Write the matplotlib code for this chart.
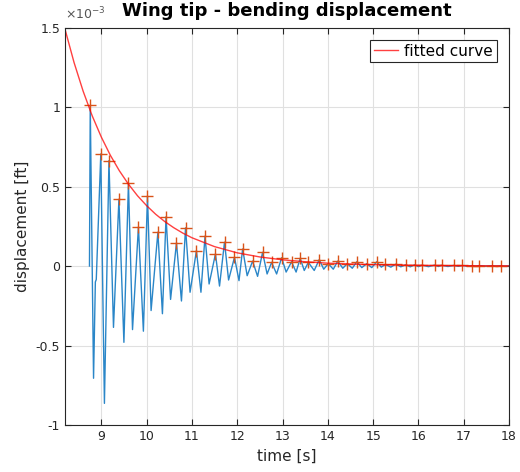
import numpy as np
import matplotlib
matplotlib.use('Agg')
import matplotlib.pyplot as plt
from matplotlib.ticker import FuncFormatter

# values in units of 1e-3 ft
peak_t = [8.757, 8.99, 9.17, 9.39, 9.60, 9.82, 10.02, 10.25, 10.43, 10.66,
          10.86, 11.10, 11.29, 11.52, 11.72, 11.94, 12.12, 12.34, 12.56, 12.76,
          12.98, 13.20, 13.39, 13.57, 13.81, 14.01, 14.22, 14.43, 14.64, 14.86,
          15.08, 15.27, 15.50, 15.72, 15.92, 16.08, 16.36, 16.51, 16.78, 16.97,
          17.19, 17.34, 17.63, 17.82]
peak_v = [1.01, 0.705, 0.663, 0.42, 0.52, 0.245, 0.44, 0.213, 0.31, 0.146,
          0.24, 0.097, 0.188, 0.076, 0.15, 0.055, 0.107, 0.031, 0.086, 0.023,
          0.052, 0.027, 0.048, 0.023, 0.040, 0.015, 0.031, 0.015, 0.027, 0.015,
          0.027, 0.010, 0.012, 0.008, 0.008, 0.006, 0.006, 0.005, 0.004, 0.004,
          0.003, 0.003, 0.002, 0.002]

trough_t = [8.83, 8.87, 8.89, 9.07, 9.27, 9.50, 9.69, 9.93, 10.10, 10.35,
            10.53, 10.77, 10.96, 11.20, 11.38, 11.61, 11.81, 12.04, 12.22, 12.45,
            12.66, 12.87, 13.08, 13.30, 13.48, 13.70, 13.91, 14.12, 14.33, 14.54,
            14.75, 14.97, 15.18, 15.39, 15.61, 15.82, 16.00, 16.22, 16.44, 16.65,
            16.88, 17.08, 17.27, 17.48, 17.72, 17.91]
trough_v = [-0.706, -0.10, -0.085, -0.864, -0.386, -0.48, -0.40, -0.41, -0.28, -0.30,
            -0.21, -0.22, -0.165, -0.165, -0.113, -0.126, -0.088, -0.092, -0.061, -0.065,
            -0.050, -0.050, -0.038, -0.038, -0.028, -0.028, -0.020, -0.020, -0.014, -0.014,
            -0.010, -0.010, -0.007, -0.007, -0.005, -0.005, -0.004, -0.004, -0.003, -0.003,
            -0.002, -0.002, -0.002, -0.001, -0.001, -0.001]

start_t, start_v = 8.74, 0.0
end_t, end_v = 18.0, 0.001

fit_t = [8.2, 8.4, 8.6, 8.8, 9.0, 9.2, 9.4, 9.6, 9.8, 10.0, 10.2, 10.4, 10.6,
         10.8, 11.0, 11.5, 12.0, 12.5, 13.0, 13.5, 14.0, 14.5, 15.0, 16.0,
         17.0, 18.0]
fit_v = [1.490, 1.280, 1.100, 0.945, 0.812, 0.697, 0.599, 0.515, 0.442, 0.380,
         0.326, 0.280, 0.241, 0.207, 0.178, 0.122, 0.083, 0.057, 0.039, 0.027,
         0.018, 0.0125, 0.0085, 0.004, 0.002, 0.001]

# signal = start, all extrema in time order, end
sig = sorted(list(zip(peak_t, peak_v)) + list(zip(trough_t, trough_v))
             + [(start_t, start_v), (end_t, end_v)])
sig_t = [p[0] for p in sig]
sig_v = [p[1] for p in sig]

plt.rcParams['font.family'] = 'DejaVu Sans'
dark = '#262626'

fig = plt.figure(figsize=(5.2, 4.72), dpi=100)
ax = fig.add_axes([0.125, 0.0996, 0.854, 0.842])

ax.plot(sig_t, sig_v, color='#2a86c8', lw=1.0, solid_joinstyle='round')
ax.plot(peak_t, peak_v, '+', color='#D95319', ms=8, mew=1.0)
ax.plot(fit_t, fit_v, color='#FF0000', lw=1.0, alpha=0.75, label='fitted curve')

ax.set_xlim(8.2, 18)
ax.set_ylim(-1, 1.5)
ax.set_xticks(range(9, 19))
ax.set_yticks([-1, -0.5, 0, 0.5, 1, 1.5])
ax.yaxis.set_major_formatter(FuncFormatter(lambda v, p: '%g' % v))
ax.grid(True, color='#e0e0e0', lw=0.8)
ax.set_axisbelow(True)
ax.tick_params(direction='in', top=True, right=True, labelsize=9,
               colors=dark, length=4)
for s in ax.spines.values():
    s.set_color(dark)

ax.set_title('Wing tip - bending displacement', fontsize=13,
             fontweight='bold', pad=8)
ax.set_xlabel('time [s]', fontsize=11, color=dark)
ax.set_ylabel('displacement [ft]', fontsize=11, color=dark)
ax.text(0.0, 1.012, r'$\times$10$^{-3}$', transform=ax.transAxes,
        fontsize=9, color='#555555', va='bottom', ha='left')

leg = ax.legend(loc='upper right', fontsize=11, fancybox=False,
                edgecolor=dark, framealpha=1, borderaxespad=0.8,
                handlelength=1.6, handletextpad=0.4, borderpad=0.25)
leg.get_frame().set_linewidth(0.8)

fig.savefig('out.png', dpi=100)
